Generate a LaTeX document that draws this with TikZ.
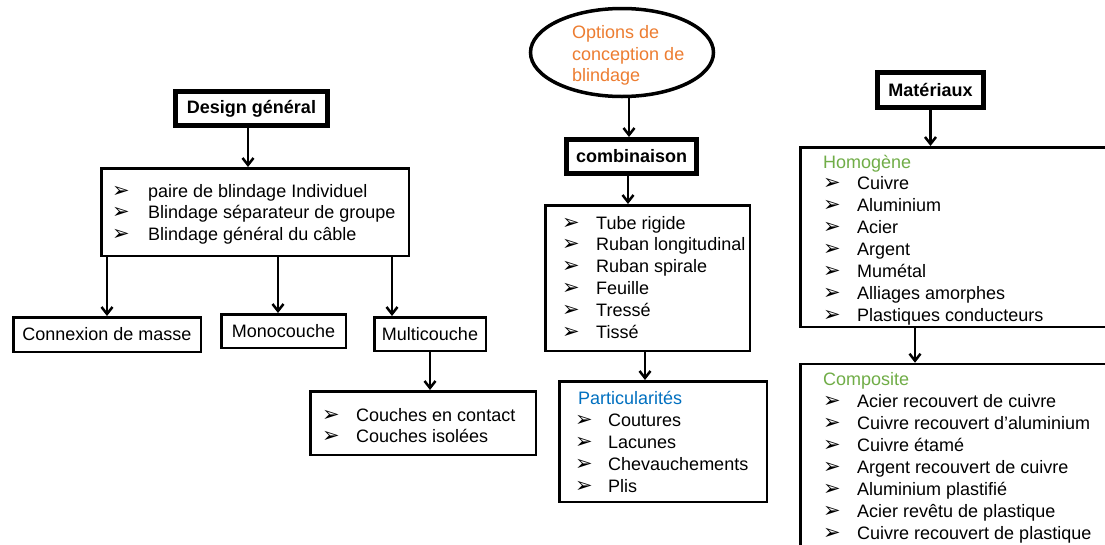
\documentclass[tikz,border=0pt]{standalone}
\usepackage{fontspec}
\setmainfont{Liberation Sans}
\newfontfamily\dejavu{DejaVu Sans}
\usetikzlibrary{arrows.meta,shapes.geometric}
\definecolor{orangeT}{HTML}{ED7D31}
\definecolor{blueT}{HTML}{0070C0}
\definecolor{greenT}{HTML}{70AD47}
\newcommand{\itemlist}[6]{%
  \foreach \txt [count=\i] in {#6} {
    \node[bul] (#1b\i) at (#2, {#4+(\i-1)*#5+7}) {➢};
    \node[itm] (#1t\i) at (#3, {#4+(\i-1)*#5+7}) {\txt};
  }}
\begin{document}
\begin{tikzpicture}[x=1pt,y=-1pt,
  every node/.style={font=\fontsize{18}{21.7}\selectfont},
  thinbox/.style={draw,line width=2.5pt,inner sep=0pt},
  titlebox/.style={draw,line width=5pt,inner sep=0pt,font=\fontsize{18}{21.7}\selectfont\bfseries},
  arr/.style={line width=2.5pt,-{Straight Barb[length=7pt,width=11pt]}},
  itm/.style={anchor=base west,inner sep=0pt},
  bul/.style={anchor=base west,inner sep=0pt,font=\dejavu\fontsize{21}{21}\selectfont},
  head/.style={anchor=base west,inner sep=0pt},
]
\useasboundingbox (0,0) rectangle (1105,544);
\clip (0,0) rectangle (1105,544);
\fill[white] (0,0) rectangle (1105,544);

% ---------------- left column ----------------
\node[titlebox,minimum width=152pt,minimum height=34pt] (design) at (251.5,108.5) {Design général};
\node[thinbox,minimum width=307.5pt,minimum height=87.5pt] (dlist) at (255,212) {};
\itemlist{d}{112}{148}{190}{21.5}{paire de blindage Individuel,Blindage séparateur de groupe,Blindage général du câble}
\node[thinbox,minimum width=187.5pt,minimum height=34.5pt] (conn) at (107,334.5) {Connexion de masse};
\node[thinbox,minimum width=124.5pt,minimum height=33.5pt] (mono) at (283.5,331) {Monocouche};
\node[thinbox,minimum width=111.5pt,minimum height=33.5pt] (multi) at (430,334) {Multicouche};
\node[thinbox,minimum width=225.5pt,minimum height=63.5pt] (couches) at (423,423) {};
\itemlist{c}{322}{356}{414}{21.5}{Couches en contact,Couches isolées}

\coordinate (ds) at ([xshift=-3.5]design.south);
\draw[arr] (ds) -- (ds |- dlist.north);
\draw[arr] (conn.north |- dlist.south) -- (conn.north);
\coordinate (mn) at ([xshift=-5.5]mono.north);
\draw[arr] (mn |- dlist.south) -- (mn);
\coordinate (mu) at ([xshift=-38]multi.north);
\draw[arr] (mu |- dlist.south) -- (mu);
\draw[arr] (multi.south) -- (multi.south |- couches.north);

% ---------------- middle column ----------------
\node[draw,ellipse,line width=3.5pt,minimum width=183pt,minimum height=88pt,inner sep=0pt] (opt) at (622,52.5) {};
\node[head,text=orangeT] (o1) at (572,38.5) {Options de};
\node[head,text=orangeT] (o2) at (572,60) {conception de};
\node[head,text=orangeT] (o3) at (572,81.5) {blindage};
\node[titlebox,minimum width=130pt,minimum height=34pt] (comb) at (631.5,156.5) {combinaison};
\node[thinbox,minimum width=204.5pt,minimum height=145.5pt] (tube) at (647.5,278) {};
\itemlist{t}{562}{596}{222}{21.8}{Tube rigide,Ruban longitudinal,Ruban spirale,Feuille,Tressé,Tissé}
\node[thinbox,minimum width=207.5pt,minimum height=120.5pt] (part) at (663,441.5) {};
\node[head,text=blueT] (pt) at (578,404) {Particularités};
\itemlist{p}{575}{608}{419}{22}{Coutures,Lacunes,Chevauchements,Plis}

\coordinate (os) at ([xshift=7]opt.south);
\draw[arr] (os) -- (os |- comb.north);
\coordinate (cs) at ([xshift=-3.5]comb.south);
\draw[arr] (cs) -- (cs |- tube.north);
\coordinate (ts) at ([xshift=-2.5]tube.south);
\draw[arr] (ts) -- (ts |- part.north);

% ---------------- right column ----------------
\node[titlebox,minimum width=106pt,minimum height=35pt] (mat) at (930.5,90) {Matériaux};
\node[thinbox,minimum width=318.5pt,minimum height=179.5pt] (homo) at (959.5,237) {};
\node[head,text=greenT] (ht) at (823,168) {Homogène};
\itemlist{h}{823}{857}{182}{22}{Cuivre,Aluminium,Acier,Argent,Mumétal,Alliages amorphes,Plastiques conducteurs}
\node[thinbox,minimum width=318.5pt,minimum height=195pt] (comp) at (959.5,461.5) {};
\node[head,text=greenT] (ct) at (823,385) {Composite};
\itemlist{k}{823}{857}{400}{22}{Acier recouvert de cuivre,Cuivre recouvert d’aluminium,Cuivre étamé,Argent recouvert de cuivre,Aluminium plastifié,Acier revêtu de plastique,Cuivre recouvert de plastique}

\draw[arr] (mat.south) -- (mat.south |- homo.north);
\coordinate (hs) at ([xshift=-44.5]homo.south);
\draw[arr] (hs) -- (hs |- comp.north);
\end{tikzpicture}
\end{document}
